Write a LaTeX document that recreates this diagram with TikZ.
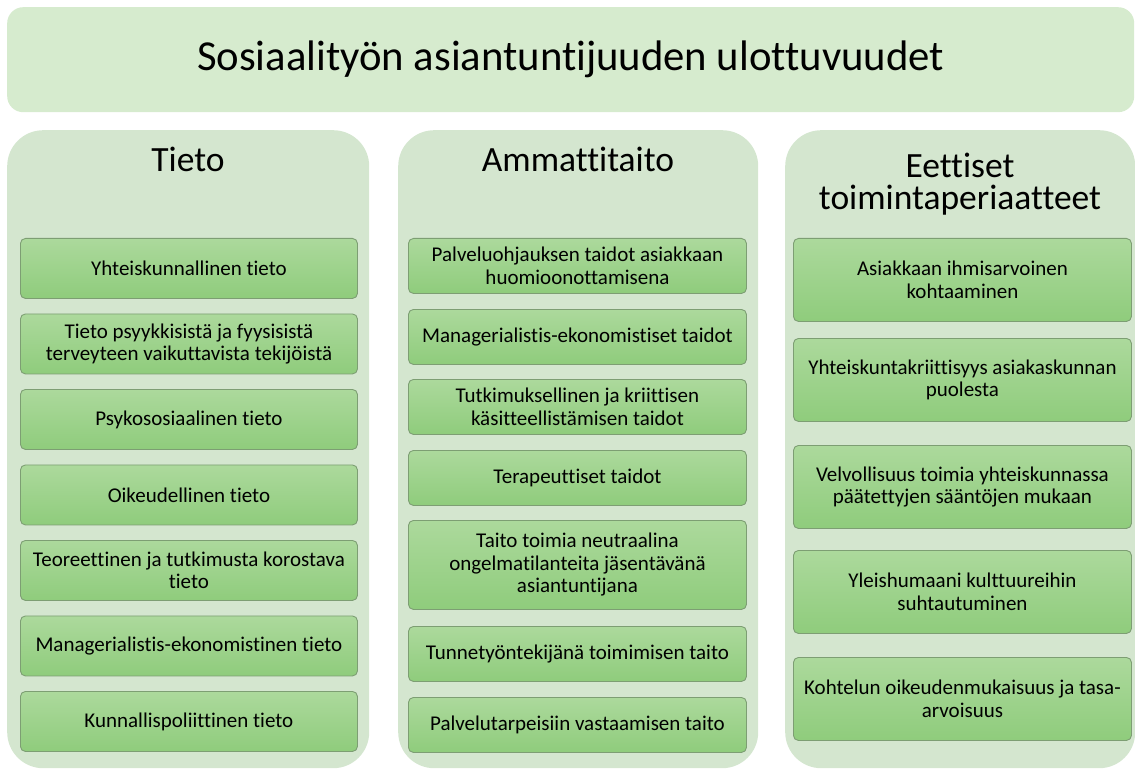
\documentclass[tikz,border=0pt]{standalone}
\usepackage{fontspec}
\setmainfont[Ligatures={NoCommon}]{Carlito}
\definecolor{titlebg}{RGB}{214,235,206}
\definecolor{colbg}{RGB}{212,230,207}
\definecolor{boxtop}{RGB}{172,217,156}
\definecolor{boxbot}{RGB}{143,204,124}
\definecolor{boxline}{RGB}{125,158,115}
\tikzset{
  titlebox/.style={fill=titlebg, rounded corners=16pt, anchor=north west, inner sep=0pt,
    font=\fontsize{42.7}{50}\selectfont},
  colbox/.style={fill=colbg, rounded corners=36pt, anchor=north west, inner sep=0pt},
  colhead/.style={anchor=base, font=\fontsize{35.5}{32}\selectfont, align=center, inner sep=0pt},
  item/.style={draw=boxline, line width=0.9pt, rounded corners=5pt, top color=boxtop,
    bottom color=boxbot, anchor=north west, align=center, inner sep=0pt,
    font=\fontsize{21}{22.5}\selectfont},
  itemA/.style={item, minimum width=337pt, minimum height=60pt},
  itemB/.style={item, minimum width=338pt, minimum height=55pt},
  itemC/.style={item, minimum width=338pt, minimum height=83pt}
}
\begin{document}
\begin{tikzpicture}[x=1pt,y=-1pt]
\useasboundingbox (0,0) rectangle (1135,770);
\node[titlebox, minimum width=1127pt, minimum height=105pt] (title) at (7,7)
  {Sosiaalityön asiantuntijuuden ulottuvuudet};

\node[colbox, minimum width=362pt, minimum height=638pt] (c1) at (7,130) {};
\node[colbox, minimum width=360pt, minimum height=638pt] (c2) at (398,130) {};
\node[colbox, minimum width=350pt, minimum height=638pt] (c3) at (785,130) {};

\node[colhead] (h1) at (188,172) {Tieto};
\node[colhead] (h2) at (578,172) {Ammattitaito};
\node[colhead] (h3a) at (960,178) {Eettiset};
\node[colhead] (h3b) at (960,210) {toimintaperiaatteet};

% column 1
\node[itemA] (a1) at (20,238) {Yhteiskunnallinen tieto};
\node[itemA] (a2) at (20,313.5) {Tieto psyykkisistä ja fyysisistä\\terveyteen vaikuttavista tekijöistä};
\node[itemA] (a3) at (20,389) {Psykososiaalinen tieto};
\node[itemA] (a4) at (20,464.5) {Oikeudellinen tieto};
\node[itemA] (a5) at (20,540) {Teoreettinen ja tutkimusta korostava\\tieto};
\node[itemA] (a6) at (20,615.5) {Managerialistis-ekonomistinen tieto};
\node[itemA] (a7) at (20,691) {Kunnallispoliittinen tieto};

% column 2
\node[itemB] (b1) at (408,238) {Palveluohjauksen taidot asiakkaan\\huomioonottamisena};
\node[itemB] (b2) at (408,309) {Managerialistis-ekonomistiset taidot};
\node[itemB] (b3) at (408,379) {Tutkimuksellinen ja kriittisen\\käsitteellistämisen taidot};
\node[itemB] (b4) at (408,450) {Terapeuttiset taidot};
\node[itemB, minimum height=89pt] (b5) at (408,520) {Taito toimia neutraalina\\ongelmatilanteita jäsentävänä\\asiantuntijana};
\node[itemB] (b6) at (408,626) {Tunnetyöntekijänä toimimisen taito};
\node[itemB] (b7) at (408,697) {Palvelutarpeisiin vastaamisen taito};

% column 3
\node[itemC] (e1) at (793,238) {Asiakkaan ihmisarvoinen\\kohtaaminen};
\node[itemC] (e2) at (793,338) {Yhteiskuntakriittisyys asiakaskunnan\\puolesta};
\node[itemC] (e3) at (793,445) {Velvollisuus toimia yhteiskunnassa\\päätettyjen sääntöjen mukaan};
\node[itemC] (e4) at (793,550) {Yleishumaani kulttuureihin\\suhtautuminen};
\node[itemC] (e5) at (793,657) {Kohtelun oikeudenmukaisuus ja tasa-\\arvoisuus};
\end{tikzpicture}
\end{document}
